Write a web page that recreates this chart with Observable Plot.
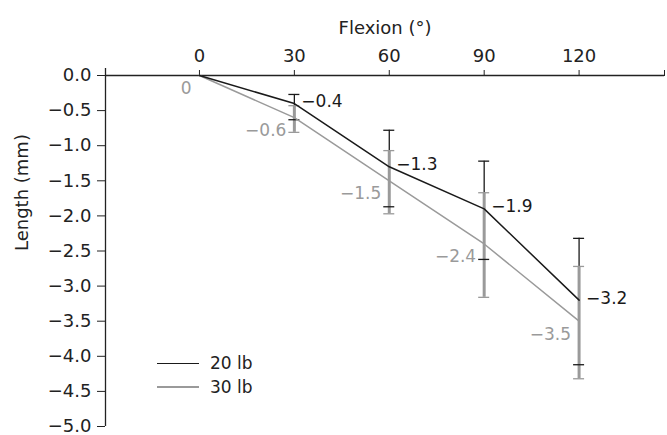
<!DOCTYPE html>
<html><head><meta charset="utf-8">
<script src="https://cdn.jsdelivr.net/npm/d3@7"></script>
<script src="https://cdn.jsdelivr.net/npm/@observablehq/plot@0.6"></script>
<style>
body{margin:0;background:#fff;font-family:"DejaVu Sans",sans-serif;}
#wrap{position:relative;width:667px;height:435px;}
#wrap svg text{font-family:"DejaVu Sans",sans-serif;}
#legend{position:absolute;left:157px;top:351px;font-size:17px;color:#222;line-height:24px;}
#legend div{display:flex;align-items:center;}
#legend span.sw{display:inline-block;width:42px;margin-right:11px;}
</style></head>
<body><div id="wrap"></div>
<script>
const flexion = [0, 30, 60, 90, 120];
const series = ["20 lb", "30 lb"];
const colors = ["#1a1a1a", "#9a9a9a"];
const mean20 = [0, -0.4, -1.3, -1.9, -3.2];
const low20  = [null, -0.63, -1.87, -2.62, -4.12];
const high20 = [null, -0.27, -0.78, -1.22, -2.32];
const mean30 = [0, -0.6, -1.5, -2.4, -3.5];
const low30  = [null, -0.81, -1.97, -3.16, -4.32];
const high30 = [null, -0.43, -1.07, -1.67, -2.72];
const xTicks = [0, 30, 60, 90, 120];
const yTicks = [0, -0.5, -1, -1.5, -2, -2.5, -3, -3.5, -4, -4.5, -5];

const fmt = v => (v < 0 ? "\u2212" : "") + Math.abs(v).toFixed(1);
const rows20 = flexion.map((x, i) => ({x, m: mean20[i], lo: low20[i], hi: high20[i]}));
const rows30 = flexion.map((x, i) => ({x, m: mean30[i], lo: low30[i], hi: high30[i]}));
const err20 = rows20.filter(d => d.lo != null);
const err30 = rows30.filter(d => d.lo != null);
const caps = rows => rows.flatMap(d => [{x: d.x, y: d.lo}, {x: d.x, y: d.hi}]);

const chart = Plot.plot({
  width: 667, height: 435,
  marginLeft: 105, marginRight: 3, marginTop: 75, marginBottom: 9,
  style: {fontFamily: '"DejaVu Sans", sans-serif', fontSize: "18px", color: "#222", background: "#fff"},
  x: {domain: [-29.7, 147]},
  y: {domain: [-5, 0]},
  marks: [
    Plot.axisX({anchor: "top", ticks: [...xTicks, 147], tickFormat: d => d > 120 ? "" : String(d), tickSize: 6, tickPadding: 8, label: null, fill: "#222"}),
    Plot.text(["Flexion (°)"], {frameAnchor: "top", dy: -54, fontSize: 18, fill: "#222"}),
    Plot.axisY({anchor: "left", ticks: yTicks, tickFormat: fmt, tickSize: 8, tickPadding: 6, label: null, fill: "#222"}),
    Plot.text(["Length (mm)"], {frameAnchor: "left", dx: -83, rotate: -90, fontSize: 18, fill: "#222"}),
    Plot.ruleX([-29.7], {y1: -5, y2: 0.1, stroke: "#222", strokeWidth: 1.3}),
    Plot.ruleY([0], {stroke: "#222", strokeWidth: 1.3}),
    Plot.ruleX(err20, {x: "x", y1: "lo", y2: "hi", stroke: colors[0], strokeWidth: 1.3}),
    Plot.ruleX(err30, {x: "x", y1: "lo", y2: "hi", stroke: colors[1], strokeWidth: 3}),
    Plot.ruleY(caps(err30), {x1: "x", x2: "x", y: "y", insetLeft: -5.5, insetRight: -5.5, stroke: colors[1], strokeWidth: 1.3}),
    Plot.ruleY(caps(err20), {x1: "x", x2: "x", y: "y", insetLeft: -5.5, insetRight: -5.5, stroke: colors[0], strokeWidth: 1.3}),
    Plot.line(rows30, {x: "x", y: "m", stroke: colors[1], strokeWidth: 1.5}),
    Plot.line(rows20, {x: "x", y: "m", stroke: colors[0], strokeWidth: 1.5}),
    Plot.text(rows20.filter(d => d.x > 0), {x: "x", y: "m", text: d => fmt(d.m), textAnchor: "start", dx: 7, dy: -2, fill: colors[0], fontSize: 17}),
    Plot.text(rows30, {x: "x", y: "m", text: d => d.m === 0 ? "0" : fmt(d.m), textAnchor: "end", dx: -8, dy: 13, fill: colors[1], fontSize: 17})
  ]
});
d3.select(chart).selectAll("g[aria-label]").each(function () {
  const l = this.getAttribute("aria-label") || "";
  if (l.includes("tick label")) {
    this.removeAttribute("font-size");
    d3.select(this).selectAll("text").style("font-size", "18px");
  }
});
const wrap = document.getElementById("wrap");
wrap.appendChild(chart);
const leg = document.createElement("div");
leg.id = "legend";
series.forEach((s, i) => {
  const row = document.createElement("div");
  const sw = document.createElement("span");
  sw.className = "sw";
  sw.style.borderTop = (i === 0 ? 1.5 : 2) + "px solid " + colors[i];
  row.appendChild(sw);
  row.appendChild(document.createTextNode(s));
  leg.appendChild(row);
});
wrap.appendChild(leg);
</script></body></html>
